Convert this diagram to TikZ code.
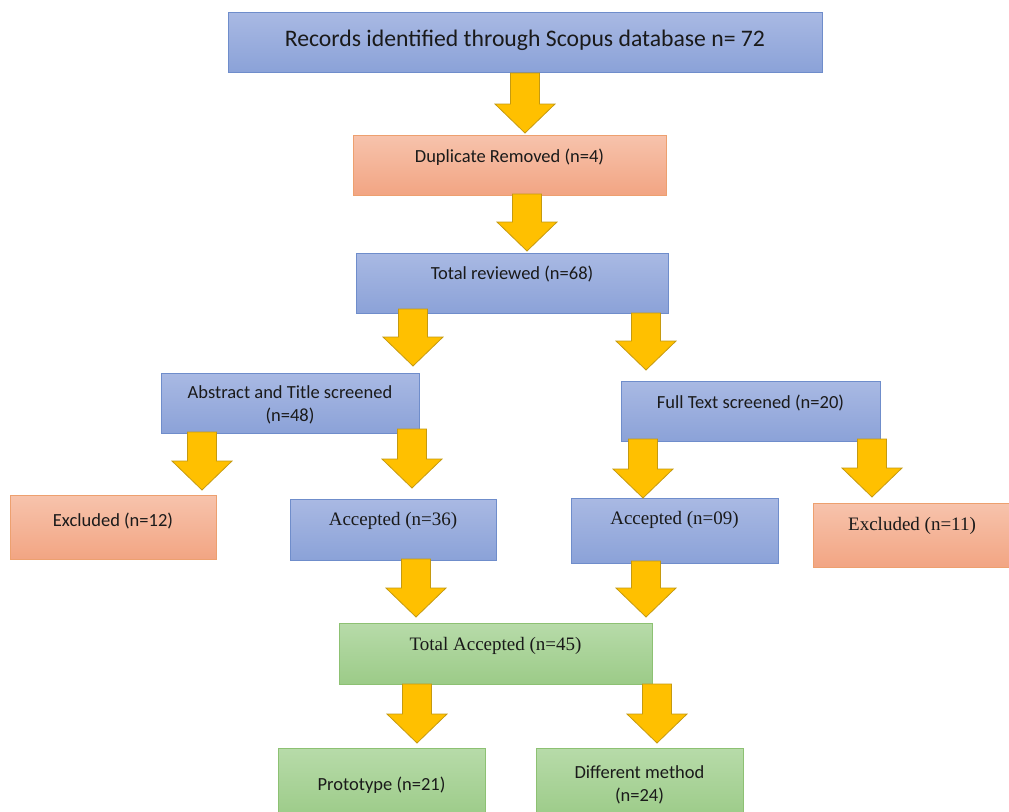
\documentclass[tikz,border=0pt]{standalone}
\usepackage{fontspec}
\setmainfont{Carlito}
\newfontfamily\timesf{Liberation Serif}
\definecolor{bluetop}{HTML}{A9B9E3}
\definecolor{bluebot}{HTML}{8BA2D8}
\definecolor{blueline}{HTML}{6F8DCB}
\definecolor{salmtop}{HTML}{F7C3AC}
\definecolor{salmbot}{HTML}{F2A583}
\definecolor{salmline}{HTML}{EDA06F}
\definecolor{greentop}{HTML}{B7DBA9}
\definecolor{greenbot}{HTML}{9CCB88}
\definecolor{greenline}{HTML}{8DC173}
\definecolor{arrfill}{HTML}{FFC000}
\definecolor{arrline}{HTML}{C59A10}
\definecolor{txt}{HTML}{1A1A1A}
\newcommand\flowarrow[4]{%
  \filldraw[arr] (#2-14.5,#3) -- (#2+14.5,#3) -- (#2+14.5,#4-29) -- (#2+30,#4-29)
    -- (#2,#4) coordinate (#1) -- (#2-30,#4-29) -- (#2-14.5,#4-29) -- cycle;}
\begin{document}
\begin{tikzpicture}[x=1pt,y=-1pt,
  boxbase/.style={rectangle, inner sep=0pt, line width=0.8pt},
  bluebox/.style={boxbase, draw=blueline, top color=bluetop, bottom color=bluebot},
  salmbox/.style={boxbase, draw=salmline, top color=salmtop, bottom color=salmbot},
  greenbox/.style={boxbase, draw=greenline, top color=greentop, bottom color=greenbot},
  calt/.style={text=txt, font=\fontsize{18.5}{23.5}\selectfont, align=center, inner sep=0pt},
  timt/.style={text=txt, font=\timesf\fontsize{19}{23}\selectfont, align=center, inner sep=0pt},
  arr/.style={fill=arrfill, draw=arrline, line width=0.8pt, line join=miter}]
\useasboundingbox (0,0) rectangle (1009,811);
\clip (0,0) rectangle (1009,811);
\fill[white] (0,0) rectangle (1009,811);

% boxes
\node[bluebox, minimum width=594pt, minimum height=60pt] (n1) at (525,42) {};
\node[text=txt, font=\fontsize{23.7}{28}\selectfont, inner sep=0pt] (t1) at (525,40) {Records identified through Scopus database n= 72};

\node[salmbox, minimum width=313pt, minimum height=60pt] (n2) at (509.5,165) {};
\node[calt] (t2) at (509.5,157) {Duplicate Removed (n=4)};

\node[bluebox, minimum width=312pt, minimum height=60pt] (n3) at (512,283) {};
\node[calt] (t3) at (512,274) {Total reviewed (n=68)};

\node[bluebox, minimum width=258pt, minimum height=60pt] (n4) at (290,403) {};
\node[calt] (t4) at (290,405) {Abstract and Title screened\\(n=48)};

\node[bluebox, minimum width=259pt, minimum height=60pt] (n5) at (750.5,411) {};
\node[calt] (t5) at (750.5,403) {Full Text screened (n=20)};

\node[salmbox, minimum width=206pt, minimum height=64pt] (n6) at (113,527) {};
\node[calt] (t6) at (113,521) {Excluded (n=12)};

\node[bluebox, minimum width=206pt, minimum height=61pt] (n7) at (393,529.5) {};
\node[timt] (t7) at (393,521) {Accepted (n=36)};

\node[bluebox, minimum width=207pt, minimum height=65pt] (n8) at (674.5,530.5) {};
\node[timt] (t8) at (674.5,520) {Accepted (n=09)};

\node[salmbox, minimum width=198pt, minimum height=64pt] (n9) at (912,535) {};
\node[timt] (t9) at (912,526) {Excluded (n=11)};

\node[greenbox, minimum width=313pt, minimum height=61pt] (n10) at (495.5,653.5) {};
\node[timt] (t10) at (495.5,646) {Total Accepted (n=45)};

\node[greenbox, minimum width=207pt, minimum height=70pt] (n11) at (381.5,783) {};
\node[calt] (t11) at (381.5,785) {Prototype (n=21)};

\node[greenbox, minimum width=207pt, minimum height=70pt] (n12) at (639.5,783) {};
\node[calt] (t12) at (639.5,785) {Different method\\(n=24)};

% arrows
\flowarrow{a1}{525}{73}{133}
\flowarrow{a2}{527}{194}{251}
\flowarrow{a3}{413}{309}{366}
\flowarrow{a4}{646}{313}{370}
\flowarrow{a5}{202}{432}{490}
\flowarrow{a6}{412}{429}{488}
\flowarrow{a7}{643}{439}{498}
\flowarrow{a8}{872}{439}{497}
\flowarrow{a9}{416}{559}{617}
\flowarrow{a10}{646}{561}{617}
\flowarrow{a11}{417}{684}{743}
\flowarrow{a12}{657}{684}{743}
\end{tikzpicture}
\end{document}
